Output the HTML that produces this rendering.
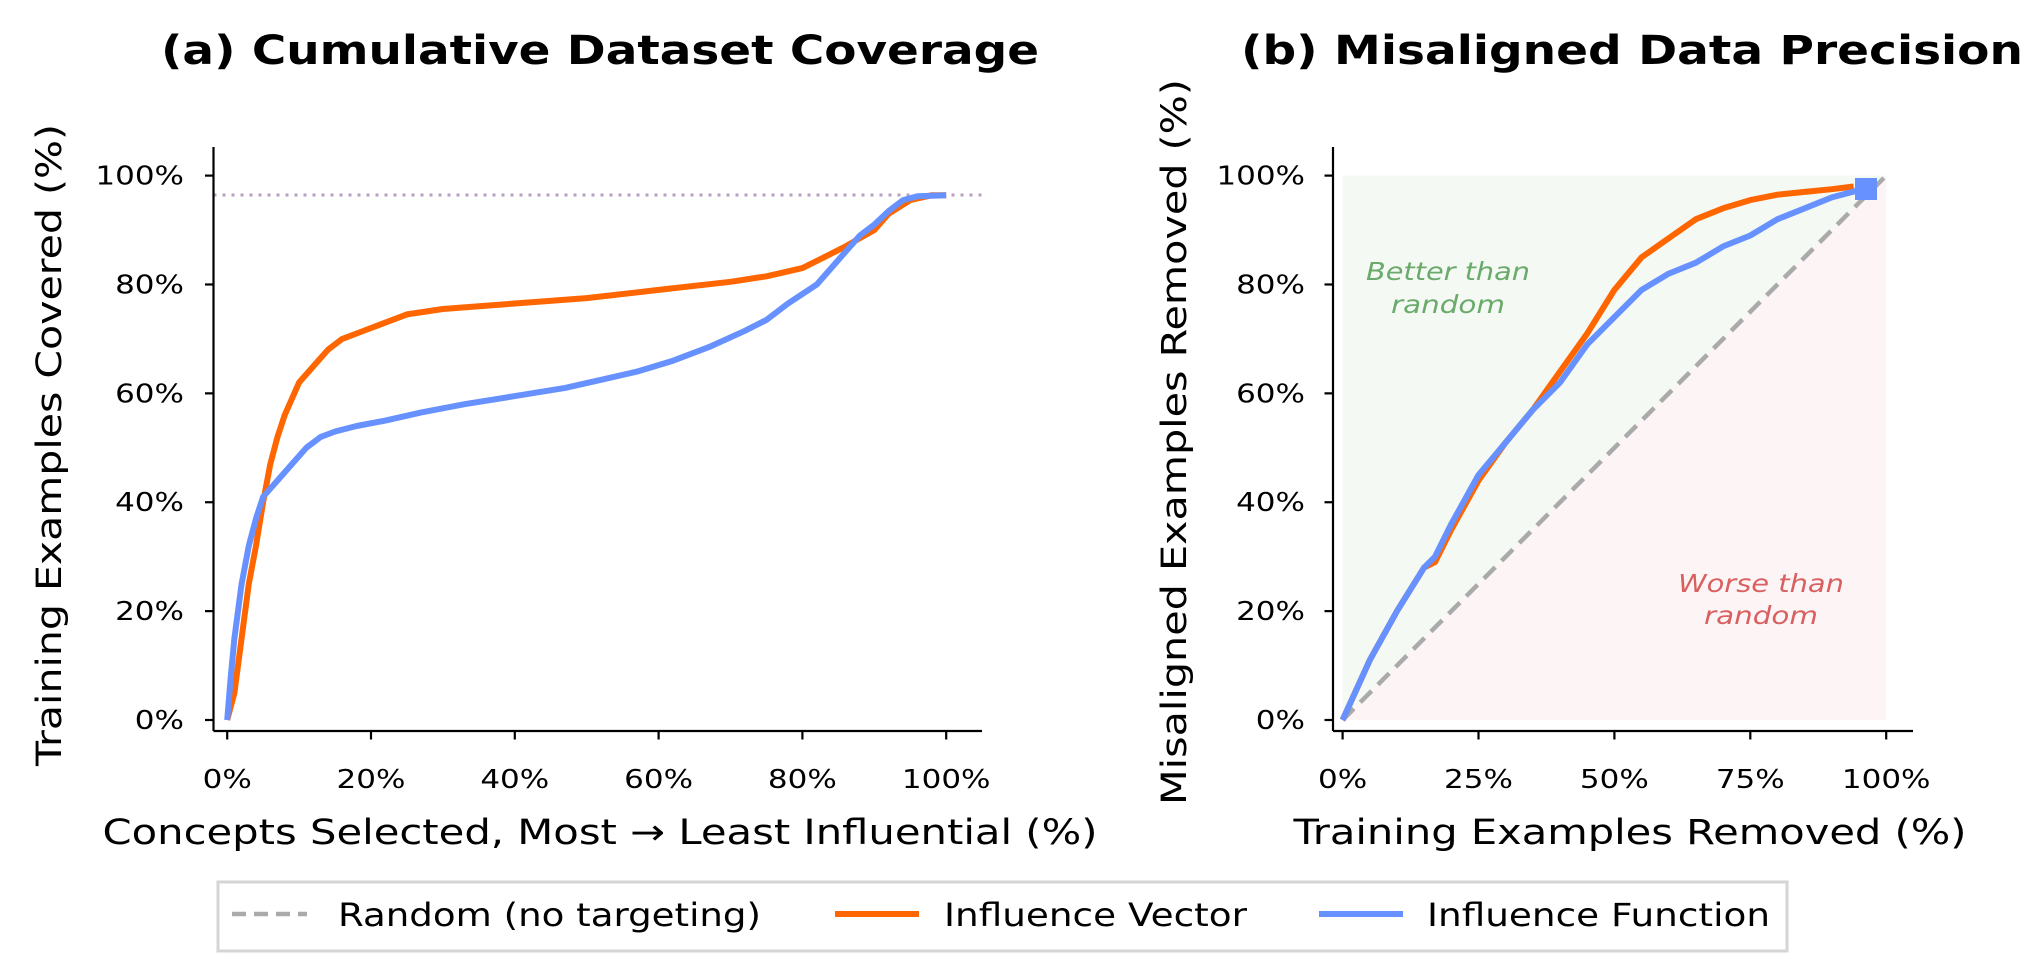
<!DOCTYPE html>
<html><head><meta charset="utf-8"><style>
html,body{margin:0;padding:0;background:#fff}
svg{display:block}
text{font-family:"DejaVu Sans","Liberation Sans",sans-serif;fill:#000}
</style></head><body>
<svg id="s" width="2043" height="979" viewBox="0 0 2043 979" xmlns="http://www.w3.org/2000/svg">
<rect width="2043" height="979" fill="#fff"/>
<text x="161" y="64" font-size="40" font-weight="bold" textLength="878" lengthAdjust="spacingAndGlyphs">(a)  Cumulative Dataset Coverage</text>
<text x="1241" y="64" font-size="40" font-weight="bold" textLength="782" lengthAdjust="spacingAndGlyphs">(b)  Misaligned Data Precision</text>
<polygon points="1342.6,175.6 1886.2,175.6 1342.6,720" fill="#f4f9f4"/>
<polygon points="1886.2,175.6 1886.2,720 1342.6,720" fill="#fdf5f5"/>
<text x="1366" y="280" font-size="25" font-style="italic" textLength="164" lengthAdjust="spacingAndGlyphs" style="fill:#6aaa6a">Better than</text>
<text x="1448" y="313" font-size="25" font-style="italic" text-anchor="middle" textLength="114" lengthAdjust="spacingAndGlyphs" style="fill:#6aaa6a">random</text>
<text x="1678" y="592" font-size="25" font-style="italic" textLength="166" lengthAdjust="spacingAndGlyphs" style="fill:#d96060">Worse than</text>
<text x="1761" y="624" font-size="25" font-style="italic" text-anchor="middle" textLength="114" lengthAdjust="spacingAndGlyphs" style="fill:#d96060">random</text>
<line x1="1342.6" y1="720" x2="1886.2" y2="175.6" stroke="#aaa" stroke-width="4.5" stroke-dasharray="16,9"/>
<line x1="213.5" y1="195" x2="982" y2="195" stroke="#b9a0c0" stroke-width="3" stroke-dasharray="3,6"/>
<g id="curves"></g>
<rect x="1855" y="178" width="22" height="22" fill="#6691ff"/>
<g stroke="#000" stroke-width="2.2" fill="none">
<line x1="213.5" y1="147" x2="213.5" y2="731"/>
<line x1="213.5" y1="731" x2="982" y2="731"/>
<line x1="1333" y1="147" x2="1333" y2="731"/>
<line x1="1333" y1="731" x2="1913" y2="731"/>
</g>
<g id="ticks"></g>
<text transform="translate(61,445) rotate(-90)" font-size="35" text-anchor="middle" textLength="642" lengthAdjust="spacingAndGlyphs">Training Examples Covered (%)</text>
<text transform="translate(1186,442) rotate(-90)" font-size="35" text-anchor="middle" textLength="726" lengthAdjust="spacingAndGlyphs">Misaligned Examples Removed (%)</text>
<text x="600" y="844" font-size="35" text-anchor="middle" textLength="995" lengthAdjust="spacingAndGlyphs">Concepts Selected, Most → Least Influential (%)</text>
<text x="1630" y="844" font-size="35" text-anchor="middle" textLength="673" lengthAdjust="spacingAndGlyphs">Training Examples Removed (%)</text>
<rect x="218" y="882" width="1569" height="69" fill="#fff" stroke="#d5d5d5" stroke-width="3"/>
<line x1="232" y1="914" x2="307" y2="914" stroke="#aaa" stroke-width="4.5" stroke-dasharray="14,8"/>
<text x="338" y="926" font-size="32" textLength="423" lengthAdjust="spacingAndGlyphs">Random (no targeting)</text>
<line x1="835" y1="914" x2="919" y2="914" stroke="#ff6600" stroke-width="6"/>
<text x="944" y="926" font-size="32" textLength="303" lengthAdjust="spacingAndGlyphs">Influence Vector</text>
<line x1="1319" y1="914" x2="1403" y2="914" stroke="#6691ff" stroke-width="6"/>
<text x="1427" y="926" font-size="32" textLength="343" lengthAdjust="spacingAndGlyphs">Influence Function</text>
</svg>
<script>
var NS="http://www.w3.org/2000/svg";
function ya(v){return 720-v*5.444;}
function xa(v){return 227.2+7.19*v;}
function xb(v){return 1342.6+5.436*v;}
var aO=[[0,0],[1,5],[2,15],[3,25],[4,32],[5,40],[6,47],[7,52],[8,56],[9,59],[10,62],[12,65],[14,68],[16,70],[18,71],[20,72],[22,73],[25,74.5],[30,75.5],[35,76],[40,76.5],[50,77.5],[60,79],[70,80.5],[75,81.5],[80,83],[83,85],[86,87],[88,88.5],[90,90],[92,93],[95,95.5],[98,96.4],[100,96.4]];
var aB=[[0,0],[0.5,8],[1,15],[2,25],[3,32],[4,37],[5,41],[7,44],[9,47],[11,50],[13,52],[15,53],[18,54],[22,55],[27,56.5],[33,58],[40,59.5],[47,61],[52,62.5],[57,64],[62,66],[67,68.5],[72,71.5],[75,73.5],[78,76.5],[82,80],[84,83],[86,86],[88,89],[90,91],[92,93.5],[94,95.5],[96,96.2],[100,96.4]];
var bO=[[0,0],[5,11],[10,20],[15,28],[17,29],[20,35],[25,44],[30,51],[35,57],[40,64],[45,71],[50,79],[55,85],[60,88.5],[65,92],[70,94],[75,95.5],[80,96.5],[85,97],[90,97.5],[94,98]];
var bB=[[0,0],[5,11],[10,20],[15,28],[17,30],[20,36],[25,45],[30,51],[35,57],[40,62],[45,69],[50,74],[55,79],[60,82],[65,84],[70,87],[75,89],[80,92],[85,94],[90,96],[96,97.6]];
var g=document.getElementById("curves");
function pl(d,fx,col){var p=document.createElementNS(NS,"polyline");
p.setAttribute("points",d.map(function(q){return fx(q[0]).toFixed(1)+","+ya(q[1]).toFixed(1)}).join(" "));
p.setAttribute("fill","none");p.setAttribute("stroke",col);p.setAttribute("stroke-width","6");p.setAttribute("stroke-linejoin","round");g.appendChild(p);}
pl(aO,xa,"#ff6600");pl(aB,xa,"#6691ff");pl(bO,xb,"#ff6600");pl(bB,xb,"#6691ff");
var t=document.getElementById("ticks");
function ln(x1,y1,x2,y2){var l=document.createElementNS(NS,"line");l.setAttribute("x1",x1);l.setAttribute("y1",y1);l.setAttribute("x2",x2);l.setAttribute("y2",y2);l.setAttribute("stroke","#000");l.setAttribute("stroke-width","2.2");t.appendChild(l);}
function wid(s){var w=0;for(var i=0;i<s.length;i++)w+=(s[i]=="%"?0.95:0.636);return w*31;}
function tx(x,y,s,a){var e=document.createElementNS(NS,"text");e.setAttribute("x",x);e.setAttribute("y",y);e.setAttribute("font-size","26");e.setAttribute("text-anchor",a);e.setAttribute("textLength",wid(s).toFixed(1));e.setAttribute("lengthAdjust","spacingAndGlyphs");e.textContent=s;t.appendChild(e);}
for(var v=0;v<=100;v+=20){var y=ya(v);ln(205,y,213.5,y);tx(184,y+9,v+"%","end");ln(1324.5,y,1333,y);tx(1305,y+9,v+"%","end");
var x=xa(v);ln(x,731,x,739.5);tx(x,788,v+"%","middle");}
for(var v=0;v<=100;v+=25){var x=xb(v);ln(x,731,x,739.5);tx(x,788,v+"%","middle");}
</script>
</body></html>
